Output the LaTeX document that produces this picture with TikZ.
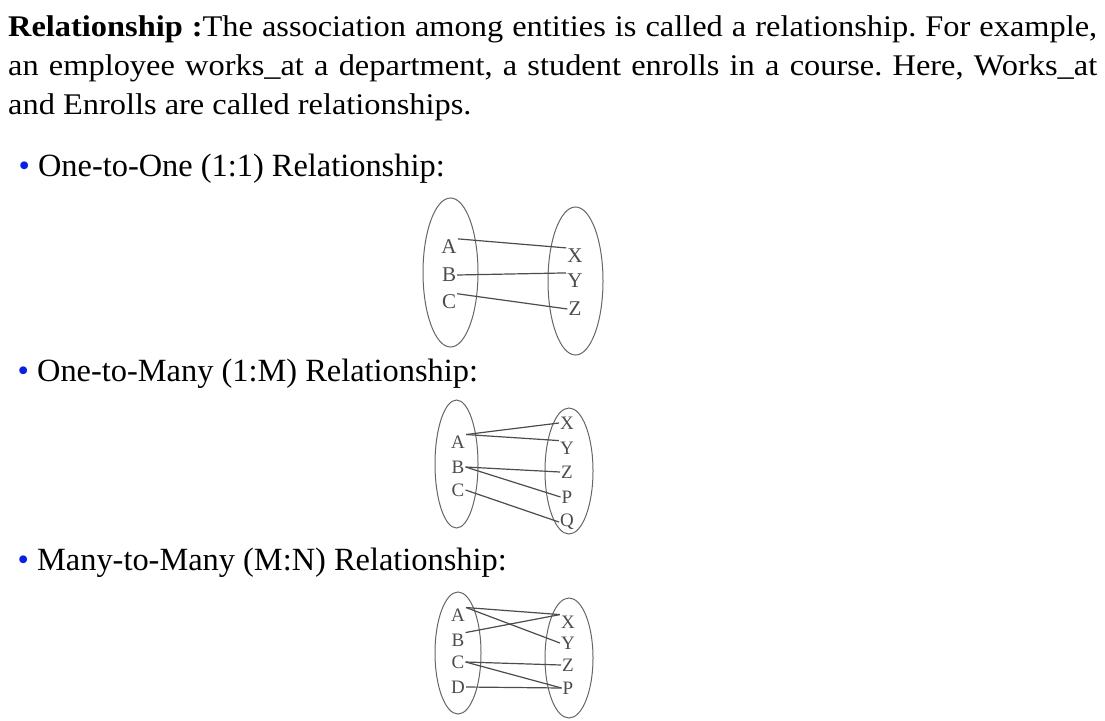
\documentclass[tikz,border=0pt]{standalone}
\usepackage{fontspec}
\setmainfont{Liberation Serif}
\newfontfamily\parafont[FakeStretch=1.08]{Liberation Serif}
\definecolor{bulletblue}{RGB}{10,30,230}
\frenchspacing

\begin{document}
\begin{tikzpicture}[x=1pt, y=-1pt,
        txt/.style={anchor=base west, inner sep=0pt, font=\parafont\fontsize{30}{39}\selectfont},
        item/.style={anchor=base west, inner sep=0pt, font=\fontsize{32.4}{39}\selectfont},
        set/.style={draw=black!60, line width=1pt},
        lbl/.style={inner sep=1pt, text=black!70, font=\fontsize{21}{21}\selectfont},
        lbls/.style={inner sep=1pt, text=black!70, font=\fontsize{19}{19}\selectfont},
        wire/.style={draw=black!70, line width=1.2pt}]
        \useasboundingbox (0,0) rectangle (1105,720);

        % definition text
        \node[txt] (par1) at (8,36.7) {\makebox[1089pt][s]{\textbf{Relationship :}The association among entities is called a relationship. For example,}};
        \node[txt] (par2) at (8,75.7) {\makebox[1089pt][s]{an employee works\_at a department, a student enrolls in a course. Here, Works\_at}};
        \node[txt] (par3) at (8,114.7) {and Enrolls are called relationships.};

        % one-to-one
        \node[item] (one) at (18.4,176) {\textcolor{bulletblue}{•} One-to-One (1:1) Relationship:};
        \draw[set] (450.5,272.5) ellipse [x radius=27.5pt, y radius=74.5pt];
        \draw[set] (575.5,281) ellipse [x radius=27.5pt, y radius=74pt];
        \node[lbl] (a1) at (449,247) {A};
        \node[lbl] (b1) at (449,275) {B};
        \node[lbl] (c1) at (449,302) {C};
        \node[lbl] (x1) at (575,256) {X};
        \node[lbl] (y1) at (575,281) {Y};
        \node[lbl] (z1) at (575,309) {Z};
        \draw[wire] (a1.north east) -- (x1.north west);
        \draw[wire] (b1.east) -- (y1.north west);
        \draw[wire] (c1.north east) -- (z1.west);

        % one-to-many
        \node[item] (many) at (17.5,381) {\textcolor{bulletblue}{•} One-to-Many (1:M) Relationship:};
        \draw[set] (456.5,464) ellipse [x radius=21.5pt, y radius=64pt];
        \draw[set] (569,471) ellipse [x radius=24pt, y radius=63pt];
        \node[lbls] (a2) at (458,442) {A};
        \node[lbls] (b2) at (458,467) {B};
        \node[lbls] (c2) at (458,490) {C};
        \node[lbls] (x2) at (567,423) {X};
        \node[lbls] (y2) at (567,448) {Y};
        \node[lbls] (z2) at (567,472) {Z};
        \node[lbls] (p2) at (567,497) {P};
        \node[lbls] (q2) at (567,522) {Q};
        \draw[wire] (a2.north east) -- (x2.west);
        \draw[wire] (a2.north east) -- (y2.north west);
        \draw[wire] (b2.east) -- (z2.west);
        \draw[wire] (b2.east) -- (p2.west);
        \draw[wire] (c2.east) -- (q2.west);

        % many-to-many
        \node[item] (mn) at (17.5,570.5) {\textcolor{bulletblue}{•} Many-to-Many (M:N) Relationship:};
        \draw[set] (458,653) ellipse [x radius=23pt, y radius=61pt];
        \draw[set] (569,658) ellipse [x radius=24pt, y radius=60pt];
        \node[lbls] (a3) at (458,615) {A};
        \node[lbls] (b3) at (458,640) {B};
        \node[lbls] (c3) at (458,662) {C};
        \node[lbls] (d3) at (458,687) {D};
        \node[lbls] (x3) at (568,622) {X};
        \node[lbls] (y3) at (568,643) {Y};
        \node[lbls] (z3) at (568,665) {Z};
        \node[lbls] (p3) at (568,688) {P};
        \draw[wire] (a3.north east) -- (x3.north west);
        \draw[wire] (a3.north east) -- (y3.west);
        \draw[wire] (b3.north east) -- (x3.north west);
        \draw[wire] (c3.east) -- (z3.west);
        \draw[wire] (c3.east) -- (p3.west);
        \draw[wire] (d3.east) -- (p3.west);
\end{tikzpicture}
\end{document}
